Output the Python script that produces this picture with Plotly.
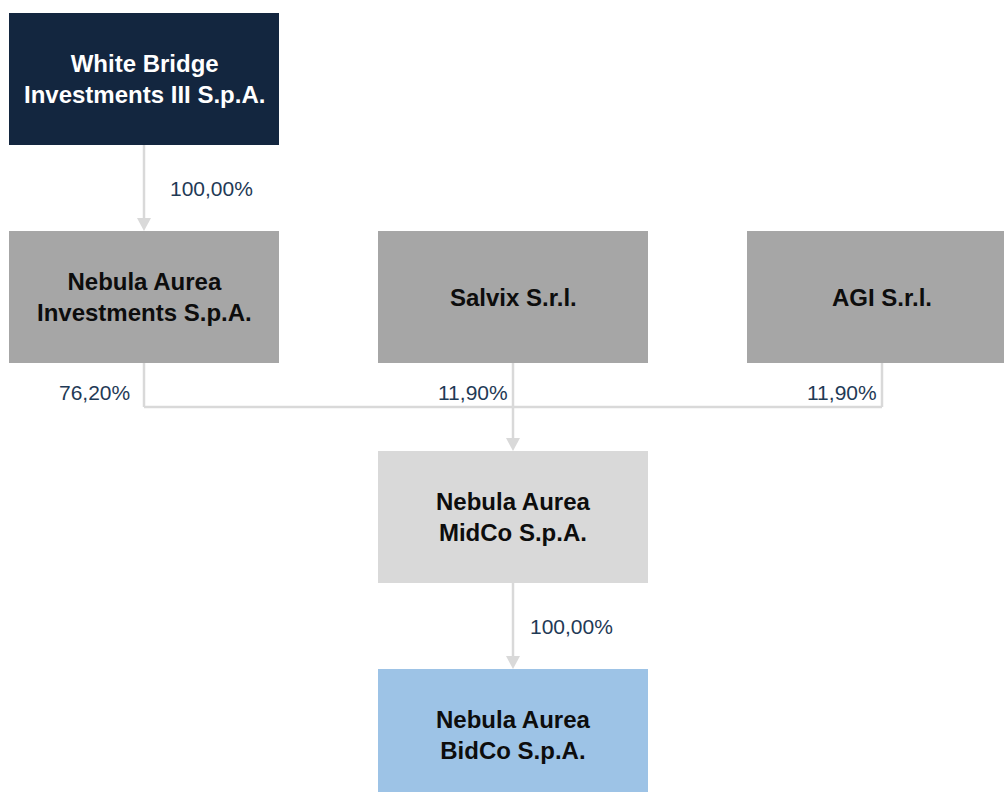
import plotly.graph_objects as go

# entities of the group structure
entities = [
    "White Bridge<br>Investments III S.p.A.",
    "Nebula Aurea<br>Investments S.p.A.",
    "Salvix S.r.l.",
    "AGI S.r.l.",
    "Nebula Aurea<br>MidCo S.p.A.",
    "Nebula Aurea<br>BidCo S.p.A.",
]

# ownership links: owner -> owned, share
owners = [0, 1, 2, 3, 4]
owned = [1, 4, 4, 4, 5]
shares = ["100,00%", "76,20%", "11,90%", "11,90%", "100,00%"]

# layout of the boxes (pixel space, y down)
BOX_W, BOX_H = 270, 132
box_left = [9, 9, 378, 747, 378, 378]
box_top = [13, 231, 231, 231, 451, 669]
box_fill = ["#13263F", "#A6A6A6", "#A6A6A6", "#A6A6A6", "#D9D9D9", "#9DC3E6"]
box_font = ["#FFFFFF", "#0D0D0D", "#0D0D0D", "#0D0D0D", "#0D0D0D", "#0D0D0D"]
# horizontal gap between each share label and its connector
label_gap = [24, 12, 3, 3, 15]

LINE_COLOR = "#D9D9D9"
LABEL_COLOR = "#1F3A56"
BUS_Y = 407
HEAD_W, HEAD_H = 14, 13

W, H = 1004, 792
FONT = "Arial, Liberation Sans, sans-serif"


def cx(i):
    return box_left[i] + BOX_W / 2


def bottom(i):
    return box_top[i] + BOX_H


fig = go.Figure()
shapes = []
annotations = []

for i, name in enumerate(entities):
    shapes.append(
        dict(
            type="rect",
            xref="x",
            yref="y",
            x0=box_left[i],
            x1=box_left[i] + BOX_W,
            y0=box_top[i],
            y1=box_top[i] + BOX_H,
            fillcolor=box_fill[i],
            line=dict(width=0),
            layer="below",
        )
    )
    annotations.append(
        dict(
            x=cx(i),
            y=box_top[i] + BOX_H / 2,
            xref="x",
            yref="y",
            text=f"<b>{name}</b>",
            showarrow=False,
            xanchor="center",
            yanchor="middle",
            font=dict(family=FONT, size=24, color=box_font[i]),
        )
    )


def add_line(xs, ys):
    fig.add_trace(
        go.Scatter(
            x=xs,
            y=ys,
            mode="lines",
            line=dict(color=LINE_COLOR, width=2.5),
            hoverinfo="skip",
            showlegend=False,
        )
    )


def add_head(x, y_tip):
    fig.add_trace(
        go.Scatter(
            x=[x - HEAD_W / 2, x + HEAD_W / 2, x, x - HEAD_W / 2],
            y=[y_tip - HEAD_H, y_tip - HEAD_H, y_tip, y_tip - HEAD_H],
            mode="lines",
            fill="toself",
            fillcolor=LINE_COLOR,
            line=dict(color=LINE_COLOR, width=0),
            hoverinfo="skip",
            showlegend=False,
        )
    )


def add_label(x, y, text, anchor):
    annotations.append(
        dict(
            x=x,
            y=y,
            xref="x",
            yref="y",
            text=text,
            showarrow=False,
            xanchor=anchor,
            yanchor="middle",
            font=dict(family=FONT, size=21, color=LABEL_COLOR),
        )
    )


targets = sorted(set(owned))
for t in targets:
    links = [k for k in range(len(owned)) if owned[k] == t]
    if len(links) == 1:
        k = links[0]
        s = owners[k]
        add_line([cx(s), cx(s)], [bottom(s), box_top[t] - HEAD_H + 1])
        add_head(cx(s), box_top[t])
        add_label(cx(s) + label_gap[k], (bottom(s) + box_top[t]) / 2, shares[k], "left")
    else:
        xs = [cx(owners[k]) for k in links]
        for k in links:
            s = owners[k]
            add_line([cx(s), cx(s)], [bottom(s), BUS_Y])
            add_label(cx(s) - label_gap[k], BUS_Y - 15, shares[k], "right")
        add_line([min(xs), max(xs)], [BUS_Y, BUS_Y])
        add_line([cx(t), cx(t)], [BUS_Y, box_top[t] - HEAD_H + 1])
        add_head(cx(t), box_top[t])

fig.update_layout(
    width=W,
    height=H,
    margin=dict(l=0, r=0, t=0, b=0, pad=0),
    paper_bgcolor="white",
    plot_bgcolor="white",
    shapes=shapes,
    annotations=annotations,
    xaxis=dict(range=[0, W], visible=False, fixedrange=True),
    yaxis=dict(range=[H, 0], visible=False, fixedrange=True),
    showlegend=False,
)

# drop the default page margin so the chart sits at the window corner
fig.write_html(
    "out.html",
    config=dict(displayModeBar=False),
    post_script="document.body.style.margin='0';document.body.style.overflow='hidden';",
)
